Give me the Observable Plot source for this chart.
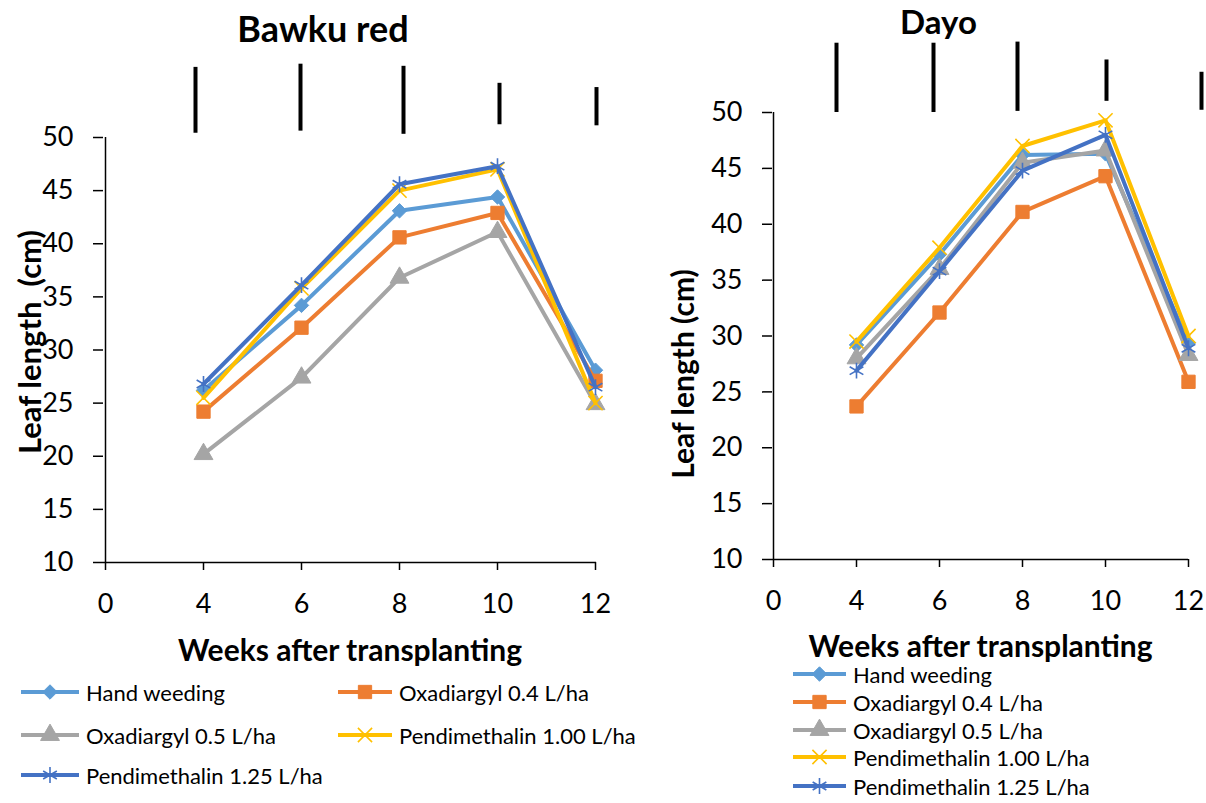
<!DOCTYPE html>
<html><head><meta charset="utf-8">
<script src="https://cdn.jsdelivr.net/npm/d3@7"></script>
<script src="https://cdn.jsdelivr.net/npm/@observablehq/plot@0.6"></script>
<style>
body{margin:0;background:#fff;font-family:Lato,sans-serif;}
#wrap{position:relative;width:1206px;height:803px;overflow:hidden;background:#fff;}
.panel{position:absolute;top:0;}
.item{position:absolute;display:flex;align-items:center;white-space:nowrap;font-family:Lato,sans-serif;font-size:22px;color:#000;height:28px;}
.item svg{margin-right:6px;}
</style></head><body><div id="wrap"></div>
<script>
// categories
const weekLabels = ["0", "4", "6", "8", "10", "12"];
const weeks = ["4", "6", "8", "10", "12"];
const series = ["Hand weeding", "Oxadiargyl 0.4 L/ha", "Oxadiargyl 0.5 L/ha", "Pendimethalin 1.00 L/ha", "Pendimethalin 1.25 L/ha"];
const yTicks = [10, 15, 20, 25, 30, 35, 40, 45, 50];

// Bawku red — leaf length (cm)
const bawkuHandWeeding = [26.2, 34.2, 43.1, 44.4, 28.1];
const bawkuOxa04 = [24.2, 32.1, 40.6, 42.9, 27.1];
const bawkuOxa05 = [20.2, 27.4, 36.8, 41.1, 24.9];
const bawkuPendi100 = [25.5, 35.8, 45.0, 47.0, 25.0];
const bawkuPendi125 = [26.8, 36.1, 45.6, 47.3, 26.5];
// Bawku red — LSD bars (bottom / top, cm)
const bawkuBarLow = [50.4, 50.6, 50.3, 51.2, 51.1];
const bawkuBarHigh = [56.6, 56.9, 56.7, 55.1, 54.7];

// Dayo — leaf length (cm)
const dayoHandWeeding = [29.2, 37.3, 46.2, 46.3, 29.4];
const dayoOxa04 = [23.7, 32.1, 41.1, 44.3, 25.9];
const dayoOxa05 = [28.0, 36.0, 45.5, 46.6, 28.3];
const dayoPendi100 = [29.5, 37.9, 47.0, 49.3, 30.0];
const dayoPendi125 = [26.9, 35.8, 44.8, 48.0, 28.9];
// Dayo — LSD bars
const dayoBarLow = [50.0, 50.0, 50.1, 51.0, 50.2];
const dayoBarHigh = [56.2, 56.2, 56.3, 54.7, 53.6];

// styles
const colors = ["#5B9BD5", "#ED7D31", "#A5A5A5", "#FFC000", "#4472C4"];
const symbols = ["diamond2", "square", "triangle", "times", "asterisk"];
const d3symbols = [d3.symbolDiamond2, d3.symbolSquare, d3.symbolTriangle, d3.symbolTimes, d3.symbolAsterisk];
const symR = [6.5, 7.5, 7, 6.5, 7.5];
const filled = [true, true, true, false, false];
// horizontal nudges (px) of the hand-placed LSD bars
const bawkuBarNudge = [-8, -1, 4, 2, 1];
const dayoBarNudge = [-20, -6, -5, 1, 13];

function rowsOf(arrs) {
  return series.flatMap((s, i) => weeks.map((w, j) => ({series: s, week: w, value: arrs[i][j], idx: i})));
}
function barsOf(low, high) {
  return weeks.map((w, j) => ({week: w, low: low[j], high: high[j]}));
}

function panel(o) {
  const rows = rowsOf(o.arrs);
  const marks = [
    Plot.ruleY([10], {stroke: "#000", strokeWidth: 1.5}),
    Plot.ruleX(["0"], {stroke: "#000", strokeWidth: 1.5}),
    Plot.axisX({ticks: weekLabels, tickSize: 8, tickPadding: 23, fontSize: 27, label: null, strokeWidth: 1.5}),
    Plot.axisY({ticks: yTicks, tickSize: 10, tickPadding: 20, fontSize: 27, label: null, strokeWidth: 1.5})
  ];
  barsOf(o.low, o.high).forEach((b, j) => {
    marks.push(Plot.ruleX([b], {x: "week", y1: "low", y2: "high", stroke: "#000", strokeWidth: 4, dx: o.nudge[j]}));
  });
  series.forEach((s, i) => {
    const d = rows.filter(r => r.idx === i);
    marks.push(Plot.line(d, {x: "week", y: "value", stroke: colors[i], strokeWidth: 4}));
    marks.push(Plot.dot(d, filled[i]
      ? {x: "week", y: "value", symbol: symbols[i], r: symR[i], fill: colors[i], stroke: colors[i], strokeWidth: 1}
      : {x: "week", y: "value", symbol: symbols[i], r: symR[i], fill: "none", stroke: colors[i], strokeWidth: 1.6}));
  });
  marks.push(Plot.text([o.title], {frameAnchor: "top", lineAnchor: "middle", textAnchor: "middle", dx: o.titleDx, dy: o.titleDy, fontSize: o.titleSize, fontWeight: "bold", fill: "#000"}));
  marks.push(Plot.text([o.yLabel], {frameAnchor: "left", lineAnchor: "middle", textAnchor: "middle", dx: o.yLabDx, dy: o.yLabDy, rotate: -90, fontSize: o.yLabSize, fontWeight: "bold", fill: "#000"}));
  marks.push(Plot.text(["Weeks after transplanting"], {frameAnchor: "bottom", lineAnchor: "middle", textAnchor: "middle", dy: o.xLabDy, fontSize: 30, fontWeight: "bold", fill: "#000"}));
  const svg = Plot.plot({
    width: o.width, height: o.height,
    marginLeft: o.ml, marginRight: o.mr, marginTop: o.mt, marginBottom: o.mb,
    style: {fontFamily: "Lato, sans-serif", background: "transparent", color: "#000", overflow: "visible"},
    x: {type: "point", domain: weekLabels, padding: 0},
    y: {domain: [10, 50]},
    marks
  });
  svg.classList.add("panel");
  svg.style.left = o.left + "px";
  return svg;
}

const wrap = document.getElementById("wrap");
wrap.appendChild(panel({
  left: 0, width: 640, height: 680, ml: 103, mr: 44, mt: 137, mb: 118,
  arrs: [bawkuHandWeeding, bawkuOxa04, bawkuOxa05, bawkuPendi100, bawkuPendi125],
  low: bawkuBarLow, high: bawkuBarHigh, nudge: bawkuBarNudge,
  title: "Bawku red", titleDx: -27, titleDy: -107, titleSize: 36,
  yLabel: "Leaf length \u00a0(cm)", yLabDx: -72, yLabDy: -8, yLabSize: 31,
  xLabDy: 89
}));
wrap.appendChild(panel({
  left: 640, width: 566, height: 680, ml: 132, mr: 18, mt: 112, mb: 121,
  arrs: [dayoHandWeeding, dayoOxa04, dayoOxa05, dayoPendi100, dayoPendi125],
  low: dayoBarLow, high: dayoBarHigh, nudge: dayoBarNudge,
  title: "Dayo", titleDx: -42, titleDy: -89, titleSize: 33,
  yLabel: "Leaf length (cm)", yLabDx: -88, yLabDy: 38, yLabSize: 30,
  xLabDy: 88
}));

function legendItem(i, x, cy, sw) {
  const div = document.createElement("div");
  div.className = "item";
  div.style.left = x + "px";
  div.style.top = (cy - 14) + "px";
  const s = d3.create("svg").attr("width", sw).attr("height", 22);
  s.append("line").attr("x1", 1).attr("x2", sw - 1).attr("y1", 11).attr("y2", 11)
    .attr("stroke", colors[i]).attr("stroke-width", 4);
  s.append("path").attr("transform", `translate(${sw / 2},11)`)
    .attr("d", d3.symbol(d3symbols[i], Math.PI * symR[i] * symR[i])())
    .attr("fill", filled[i] ? colors[i] : "none").attr("stroke", colors[i])
    .attr("stroke-width", filled[i] ? 1 : 1.6);
  div.appendChild(s.node());
  const t = document.createElement("span");
  t.textContent = series[i];
  div.appendChild(t);
  wrap.appendChild(div);
}
// left legend (two columns)
legendItem(0, 20, 692, 60);
legendItem(1, 337, 692, 56);
legendItem(2, 20, 735, 60);
legendItem(3, 337, 735, 56);
legendItem(4, 20, 775, 60);
// right legend (one column)
[674, 702, 730, 757, 786].forEach((cy, i) => legendItem(i, 792, cy, 55));
</script></body></html>
